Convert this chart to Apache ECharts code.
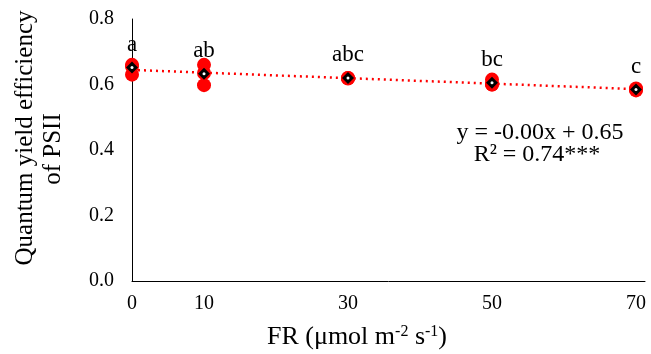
<!DOCTYPE html>
<html>
<head>
    <meta charset="utf-8">
    <title>PSII</title>
    <script src="https://cdn.jsdelivr.net/npm/echarts@6/dist/echarts.min.js"></script>
</head>
<body style="margin:0">
    <div id="main" style="width: 651px;height:354px;"></div>
    <script type="text/javascript">
        // data
        var frLevels = [0, 10, 30, 50, 70];
        var repValues = [
            [0.660, 0.655, 0.630],
            [0.660, 0.635, 0.598],
            [0.620, 0.620, 0.618],
            [0.615, 0.600, 0.600],
            [0.588, 0.585, 0.582]
        ];
        var meanValues = [0.652, 0.633, 0.620, 0.605, 0.585];
        var letters = ['a', 'ab', 'abc', 'bc', 'c'];
        var xTickLabels = [0, 10, 30, 50, 70];

        var font = 'Liberation Serif';

        // raw points
        var rawPoints = [];
        frLevels.forEach(function (x, i) {
            repValues[i].forEach(function (v) { rawPoints.push([x, v]); });
        });

        // linear trend (least squares on raw points)
        var n = rawPoints.length, sx = 0, sy = 0, sxx = 0, sxy = 0;
        rawPoints.forEach(function (p) {
            sx += p[0]; sy += p[1]; sxx += p[0] * p[0]; sxy += p[0] * p[1];
        });
        var slope = (n * sxy - sx * sy) / (n * sxx - sx * sx);
        var icpt = (sy - slope * sx) / n;
        var trend = [[0, icpt], [70, icpt + slope * 70]];

        var meanPoints = frLevels.map(function (x, i) { return [x, meanValues[i]]; });

        function txt(x, y, text, size, rot) {
            return {
                type: 'text',
                x: x,
                y: y,
                rotation: rot || 0,
                style: {
                    text: text,
                    fontFamily: font,
                    fontSize: size,
                    fill: '#000',
                    textAlign: 'center',
                    textVerticalAlign: 'middle'
                }
            };
        }

        var myChart = echarts.init(document.getElementById('main'));
        var option = {
            animation: false,
            grid: { left: 132, right: 6, top: 19, bottom: 73 },
            xAxis: {
                type: 'value',
                min: 0,
                max: 71.25,
                interval: 10,
                axisLine: { lineStyle: { color: '#000', width: 1 } },
                axisTick: { show: false },
                splitLine: { show: false },
                axisLabel: {
                    margin: 13,
                    color: '#000',
                    fontFamily: font,
                    fontSize: 20,
                    formatter: function (v) {
                        return xTickLabels.indexOf(v) >= 0 ? String(v) : '';
                    }
                }
            },
            yAxis: {
                type: 'value',
                min: 0,
                max: 0.8,
                interval: 0.2,
                axisLine: { show: true, lineStyle: { color: '#000', width: 1 } },
                axisTick: { show: false },
                splitLine: { show: false },
                axisLabel: {
                    margin: 18,
                    color: '#000',
                    fontFamily: font,
                    fontSize: 20,
                    formatter: function (v) { return v.toFixed(1); }
                }
            },
            graphic: [
                txt(25, 138, 'Quantum yield efficiency', 25, Math.PI / 2),
                txt(53, 149, 'of PSII', 25, Math.PI / 2),
                txt(540, 133, 'y = -0.00x + 0.65', 24),
                txt(537, 155, 'R² = 0.74***', 24),
                {
                    type: 'text',
                    x: 357,
                    y: 337,
                    style: {
                        text: 'FR (μmol m{s|-2} s{s|-1})',
                        fontFamily: font,
                        fontSize: 26,
                        fill: '#000',
                        textAlign: 'center',
                        textVerticalAlign: 'middle',
                        rich: {
                            s: { fontFamily: font, fontSize: 16, fill: '#000', verticalAlign: 'top', padding: [0, 0, 10, 0] }
                        }
                    }
                }
            ],
            series: [
                {
                    name: 'trend',
                    type: 'line',
                    data: trend,
                    symbol: 'none',
                    lineStyle: { color: '#ff0000', width: 2.5, type: [2, 4] },
                    z: 1
                },
                {
                    name: 'replicates',
                    type: 'scatter',
                    data: rawPoints,
                    symbol: 'circle',
                    symbolSize: 14,
                    itemStyle: { color: '#ff0000', opacity: 1 },
                    z: 2
                },
                {
                    name: 'mean',
                    type: 'scatter',
                    data: meanPoints,
                    symbol: 'diamond',
                    symbolSize: 12,
                    itemStyle: { color: '#000', opacity: 1 },
                    label: {
                        show: true,
                        position: 'top',
                        distance: 5,
                        color: '#000',
                        fontFamily: font,
                        fontSize: 23,
                        formatter: function (p) { return letters[p.dataIndex]; }
                    },
                    z: 3
                },
                {
                    name: 'meanDot',
                    type: 'scatter',
                    data: meanPoints,
                    symbol: 'circle',
                    symbolSize: 3,
                    itemStyle: { color: '#fff', opacity: 1 },
                    silent: true,
                    z: 4
                }
            ]
        };
        myChart.setOption(option);
    </script>
</body>
</html>
